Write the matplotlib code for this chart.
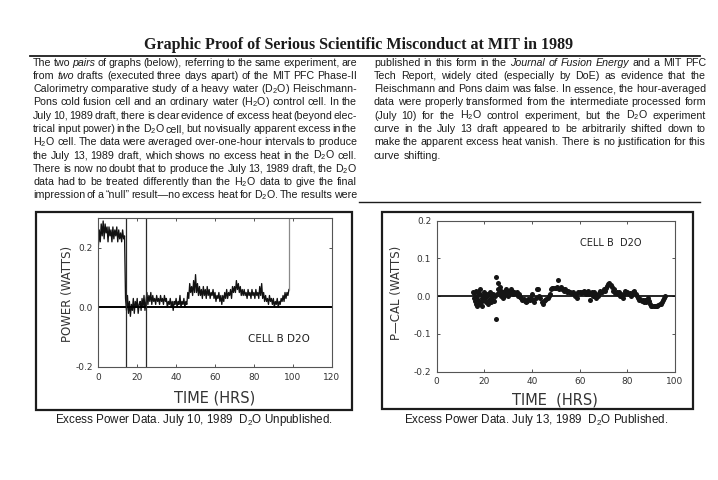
import numpy as np
import matplotlib
matplotlib.use("Agg")
import matplotlib.pyplot as plt
from matplotlib.patches import Rectangle
from matplotlib.lines import Line2D

# ---------------- data ----------------
title = "Graphic Proof of Serious Scientific Misconduct at MIT in 1989"

left_lines = [
    "The two *pairs of graphs (below), referring to the same experiment, are",
    "from *two drafts (executed three days apart) of the MIT PFC Phase-II",
    "Calorimetry comparative study of a heavy water (D$_2$O) Fleischmann-",
    "Pons cold fusion cell and an ordinary water (H$_2$O) control cell. In the",
    "July 10, 1989 draft, there is clear evidence of excess heat (beyond elec-",
    "trical input power) in the D$_2$O cell, but no visually apparent excess in the",
    "H$_2$O cell. The data were averaged over-one-hour intervals to produce",
    "the July 13, 1989 draft, which shows no excess heat in the D$_2$O cell.",
    "There is now no doubt that to produce the July 13, 1989 draft, the D$_2$O",
    "data had to be treated differently than the H$_2$O data to give the final",
    "impression of a \u201cnull\u201d result\u2014no excess heat for D$_2$O. The results were",
]
right_lines = [
    "published in this form in the *Journal *of *Fusion *Energy and a MIT PFC",
    "Tech Report, widely cited (especially by DoE) as evidence that the",
    "Fleischmann and Pons claim was false. In essence, the hour-averaged",
    "data were properly transformed from the intermediate processed form",
    "(July 10) for the H$_2$O control experiment, but the D$_2$O experiment",
    "curve in the July 13 draft appeared to be arbitrarily shifted down to",
    "make the apparent excess heat vanish. There is no justification for this",
    "curve shifting.",
]

# July 10 draft: excess power (W), sampled every 0.5 h from 0 to 98 h
hours_jul10 = np.arange(0, 98.5, 0.5)
power_jul10 = [
    0.20, 0.26, 0.22, 0.28, 0.24, 0.29, 0.23, 0.28, 0.25, 0.27,
    0.22, 0.27, 0.24, 0.26, 0.22, 0.27, 0.23, 0.26, 0.24, 0.27,
    0.22, 0.26, 0.23, 0.25, 0.22, 0.26, 0.23, 0.24, 0.03, -0.01,
    0.04, -0.02, 0.02, -0.03, 0.01, -0.01, 0.03, -0.02, 0.02, 0.00,
    0.03, -0.02, 0.01, 0.02, -0.01, 0.03, 0.00, 0.04, -0.01, 0.02,
    0.05, 0.01, 0.04, 0.02, 0.05, 0.01, 0.04, 0.02, 0.03, 0.01,
    0.04, 0.02, 0.03, 0.01, 0.04, 0.02, 0.03, 0.01, 0.04, 0.02,
    0.03, 0.00, 0.02, 0.01, 0.03, 0.00, 0.02, -0.01, 0.02, 0.01,
    0.03, 0.00, 0.02, 0.01, 0.04, 0.00, 0.02, 0.01, 0.03, 0.00,
    0.02, 0.01, 0.05, 0.03, 0.08, 0.05, 0.07, 0.04, 0.09, 0.05,
    0.11, 0.05, 0.08, 0.04, 0.07, 0.04, 0.06, 0.03, 0.07, 0.04,
    0.06, 0.03, 0.07, 0.04, 0.06, 0.03, 0.05, 0.04, 0.06, 0.03,
    0.05, 0.02, 0.04, 0.03, 0.05, 0.02, 0.04, 0.01, 0.04, 0.02,
    0.05, 0.03, 0.06, 0.03, 0.05, 0.04, 0.06, 0.03, 0.07, 0.05,
    0.07, 0.05, 0.09, 0.06, 0.08, 0.05, 0.07, 0.04, 0.06, 0.04,
    0.06, 0.04, 0.05, 0.03, 0.06, 0.04, 0.05, 0.03, 0.06, 0.04,
    0.05, 0.03, 0.06, 0.04, 0.05, 0.03, 0.07, 0.04, 0.08, 0.03,
    0.05, 0.02, 0.04, 0.02, 0.03, 0.01, 0.04, 0.02, 0.03, 0.01,
    0.03, 0.00, 0.02, 0.01, 0.03, 0.00, 0.02, 0.01, 0.03, 0.02,
    0.04, 0.02, 0.05, 0.03, 0.05, 0.04, 0.06,
]
full_vlines_jul10 = [14, 24.5]
end_vline_jul10 = 98

# July 13 draft: hour-averaged P-CAL (W)
hours_jul13 = [
    15.2, 15.5, 15.8, 16.0, 16.3, 16.5, 16.8, 17.0, 17.2, 17.5, 17.8, 18.0, 18.3, 18.5, 18.8,
    19.0, 19.3, 19.6, 19.9, 20.2, 20.5, 20.8, 21.1, 21.4, 21.7, 22.0, 22.3, 22.6, 22.9, 23.2,
    23.5, 23.8, 24.1, 24.4, 24.7, 25.0, 25.3, 25.6, 25.9, 26.2, 26.5, 26.8, 27.1, 27.4, 27.7,
    28.0, 28.3, 28.6, 28.9, 29.2, 29.5, 29.8, 30.1, 30.4, 30.7, 31.0, 31.4, 31.8, 32.2, 32.6,
    33.0, 33.5, 34.0, 34.5, 35.0, 35.5, 36.0, 36.5, 37.0, 37.5, 38.0, 38.5, 39.0, 39.5, 40.0,
    40.5, 41.0, 41.5, 42.0, 42.5, 43.0, 43.5, 44.0, 44.5, 45.0, 45.5, 46.0, 46.5, 47.0, 47.5,
    48.0, 48.5, 49.0, 49.5, 50.0, 50.5, 51.0, 51.5, 52.0, 52.5, 53.0, 53.5, 54.0, 54.5, 55.0,
    55.5, 56.0, 56.5, 57.0, 57.5, 58.0, 58.5, 59.0, 59.5, 60.0, 60.5, 61.0, 61.5, 62.0, 62.5,
    63.0, 63.5, 64.0, 64.5, 65.0, 65.5, 66.0, 66.5, 67.0, 67.5, 68.0, 68.5, 69.0, 69.5, 70.0,
    70.5, 71.0, 71.5, 72.0, 72.5, 73.0, 73.5, 74.0, 74.5, 75.0, 75.5, 76.0, 76.5, 77.0, 77.5,
    78.0, 78.5, 79.0, 79.5, 80.0, 80.5, 81.0, 81.5, 82.0, 82.5, 83.0, 83.5, 84.0, 84.5, 85.0,
    85.5, 86.0, 86.5, 87.0, 87.5, 88.0, 88.5, 89.0, 89.5, 90.0, 90.5, 91.0, 91.5, 92.0, 92.5,
    93.0, 93.5, 94.0, 94.5, 95.0, 95.5, 96.0,
]
pcal_jul13 = [
    0.012, -0.005, 0.008, -0.012, 0.015, -0.020, 0.000, -0.025, 0.010, -0.010, -0.020, 0.005, 0.020, -0.015, -0.005,
    -0.025, 0.000, -0.010, 0.010, -0.005, 0.005, -0.015, 0.000, -0.020, 0.005, -0.010, 0.010, -0.005, -0.015, 0.000,
    -0.010, 0.005, -0.012, 0.000, 0.050, -0.060, 0.005, 0.020, 0.035, 0.010, 0.025, 0.000, 0.015, 0.005, -0.005,
    0.012, 0.000, 0.015, 0.008, 0.018, 0.005, 0.012, 0.000, 0.015, 0.008, 0.018, 0.010, 0.015, 0.005, 0.012,
    0.008, 0.010, 0.000, 0.005, -0.003, -0.005, -0.010, -0.008, -0.012, -0.015, -0.012, -0.008, -0.010, -0.005, 0.005,
    -0.010, -0.015, -0.005, 0.020, 0.018, 0.000, -0.005, -0.015, -0.020, -0.012, -0.010, -0.008, -0.005, 0.000, 0.005,
    0.020, 0.022, 0.022, 0.023, 0.022, 0.025, 0.042, 0.020, 0.025, 0.020, 0.018, 0.015, 0.018, 0.010, 0.015,
    0.012, 0.010, 0.008, 0.012, 0.005, 0.000, 0.005, -0.005, 0.012, 0.010, 0.008, 0.012, 0.010, 0.015, 0.005,
    0.012, 0.015, 0.005, -0.010, 0.012, 0.000, 0.010, 0.005, -0.005, 0.000, 0.008, 0.015, 0.012, 0.010, 0.020,
    0.015, 0.022, 0.028, 0.032, 0.035, 0.030, 0.025, 0.015, 0.020, 0.008, 0.012, 0.005, 0.010, 0.000, 0.005,
    -0.005, 0.005, 0.015, 0.010, 0.012, 0.005, 0.008, 0.000, 0.005, 0.010, 0.015, 0.005, 0.000, -0.005, -0.010,
    -0.008, -0.012, -0.010, -0.015, -0.010, -0.015, -0.005, -0.012, -0.020, -0.025, -0.025, -0.025, -0.025, -0.025, -0.025,
    -0.022, -0.020, -0.020, -0.015, -0.010, -0.005, 0.000,
]

# ---------------- figure ----------------
W, H = 718, 480
plt.rcParams["mathtext.fontset"] = "custom"
plt.rcParams["mathtext.rm"] = "Liberation Sans"
plt.rcParams["mathtext.it"] = "Liberation Sans:italic"
plt.rcParams["mathtext.bf"] = "Liberation Sans:bold"
plt.rcParams["axes.unicode_minus"] = False

INK = "#1c1c1c"
fig = plt.figure(figsize=(W / 100, H / 100), dpi=100)
fig.patch.set_facecolor("white")
renderer = fig.canvas.get_renderer()


def fx(x):
    return x / W


def fy(y):
    return 1 - y / H


# title, auto-sized to the measured width
t = fig.text(fx(359), fy(49), title, family="Liberation Serif", fontsize=12,
             fontweight="bold", ha="center", va="baseline", color=INK)
wpx = t.get_window_extent(renderer).width
t.set_fontsize(12 * 426 / wpx)

fig.add_artist(Line2D([fx(30), fx(700)], [fy(55.5), fy(55.5)], color=INK, lw=1.3))
fig.add_artist(Line2D([fx(359), fx(700)], [fy(201.5), fy(201.5)], color=INK, lw=1.0))


def word_items(line):
    items = []
    for w in line.split(" "):
        style = "normal"
        if w.startswith("*"):
            w = w[1:]
            style = "italic"
        items.append((w, style))
    return items


def measure(s, size, style="normal"):
    a = fig.text(0, 0, s, fontsize=size, family="Liberation Sans", style=style)
    wd = a.get_window_extent(renderer).width
    a.remove()
    return wd


def fit_size(lines, x0, x1, base=7.0):
    sp = measure("a a", base) - measure("aa", base)
    ratios = []
    for line in lines[:-1]:
        items = word_items(line)
        nat = sum(measure(w, base, st) for w, st in items) + sp * (len(items) - 1)
        ratios.append((x1 - x0) / nat)
    return base * float(np.median(ratios))


def set_paragraph(lines, x0, x1, y0, dy, size, last_justified):
    sp = measure("a a", size) - measure("aa", size)
    for i, line in enumerate(lines):
        y = y0 + i * dy
        arts, widths = [], []
        for w, style in word_items(line):
            a = fig.text(fx(x0), fy(y), w, fontsize=size, family="Liberation Sans",
                         style=style, ha="left", va="baseline", color=INK)
            arts.append(a)
            widths.append(a.get_window_extent(renderer).width)
        justify = (i < len(lines) - 1) or last_justified
        if justify and len(arts) > 1:
            gap = (x1 - x0 - sum(widths)) / (len(arts) - 1)
        else:
            gap = sp
        x = x0
        for a, wd in zip(arts, widths):
            a.set_x(fx(x))
            x += wd + gap


body_size = fit_size(left_lines, 33, 357)
set_paragraph(left_lines, 33, 357, 65.5, 13.3, body_size, True)
set_paragraph(right_lines, 374, 706, 65.5, 13.3, body_size, False)

# outer boxes
fig.add_artist(Rectangle((fx(36), fy(410)), (352 - 36) / W, (410 - 212) / H,
                         fill=False, ec=INK, lw=1.6))
fig.add_artist(Rectangle((fx(382), fy(409)), (693 - 382) / W, (409 - 212) / H,
                         fill=False, ec=INK, lw=1.6))

LABFONT = "DejaVu Sans"


def style_axes(ax):
    for s in ax.spines.values():
        s.set_color("#555555")
        s.set_linewidth(0.8)
    ax.tick_params(direction="in", length=2.5, width=0.7, colors="#555555",
                   top=True, right=True, pad=4, labelcolor="#333333", labelsize=6.5)
    for lab in ax.get_xticklabels() + ax.get_yticklabels():
        lab.set_family("DejaVu Sans")


# ---- left chart (July 10) ----
ax1 = fig.add_axes([fx(98.3), fy(367), 233.4 / W, 149 / H])
ax1.plot(hours_jul10, power_jul10, color="#111111", lw=0.95)
ax1.axhline(0, color="black", lw=1.4)
ax1.vlines(full_vlines_jul10, -0.2, 0.3, color="#2a2a2a", lw=0.9)
ax1.vlines([end_vline_jul10], power_jul10[-1], 0.3, color="#8a8a8a", lw=0.9)
ax1.set_xlim(0, 120)
ax1.set_ylim(-0.2, 0.3)
ax1.set_xticks([0, 20, 40, 60, 80, 100, 120])
ax1.set_yticks([-0.2, 0.0, 0.2])
ax1.set_yticklabels(["-0.2", "0.0", "0.2"])
style_axes(ax1)
ax1.text(77, -0.106, "CELL B D2O", family=LABFONT, fontsize=7.5, color="#222222",
         ha="left", va="center")
fig.text(fx(67.5), fy(294), "POWER (WATTS)", rotation=90, ha="center", va="center",
         family=LABFONT, fontsize=8.5, color="#333333")
fig.text(fx(215), fy(398), "TIME (HRS)", ha="center", va="center",
         family=LABFONT, fontsize=10.5, color="#333333")
fig.text(fx(193.5), fy(420), "Excess Power Data. July 10, 1989  D$_2$O Unpublished.",
         ha="center", va="center", family="Liberation Sans", fontsize=8.35, color=INK)

# ---- right chart (July 13) ----
ax2 = fig.add_axes([fx(436.7), fy(371.7), 238.3 / W, 151 / H])
ax2.axhline(0, color="black", lw=1.2)
ax2.scatter(hours_jul13, pcal_jul13, s=13, color="#151515", lw=0, zorder=3)
ax2.set_xlim(0, 100)
ax2.set_ylim(-0.2, 0.2)
ax2.set_xticks([0, 20, 40, 60, 80, 100])
ax2.set_yticks([-0.2, -0.1, 0.0, 0.1, 0.2])
ax2.set_yticklabels(["-0.2", "-0.1", "0.0", "0.1", "0.2"])
style_axes(ax2)
ax2.text(60, 0.141, "CELL B  D2O", family=LABFONT, fontsize=7, color="#222222",
         ha="left", va="center")
fig.text(fx(396.5), fy(293), "P\u2014CAL (WATTS)", rotation=90, ha="center", va="center",
         family=LABFONT, fontsize=8.5, color="#333333")
fig.text(fx(555), fy(400), "TIME  (HRS)", ha="center", va="center",
         family=LABFONT, fontsize=10.5, color="#333333")
fig.text(fx(536), fy(420), "Excess Power Data. July 13, 1989  D$_2$O Published.",
         ha="center", va="center", family="Liberation Sans", fontsize=8.35, color=INK)

fig.savefig("out.png", dpi=100)
